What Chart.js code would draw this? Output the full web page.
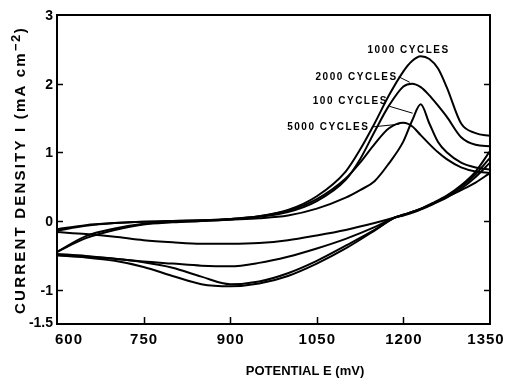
<!DOCTYPE html>
<html>
<head>
<meta charset="utf-8">
<script src="https://cdn.jsdelivr.net/npm/chart.js@4.4.1/dist/chart.umd.min.js"></script>
<style>
  html, body { margin: 0; padding: 0; background: #fff; }
  canvas { display: block; }
</style>
</head>
<body>
<canvas id="cv" width="507" height="380"></canvas>
<script>
// Forward (anodic) sweep potentials, mV
const anodicE = [600, 650, 700, 750, 800, 850, 900, 950, 1000, 1050, 1100, 1125, 1150, 1175, 1200, 1215, 1230, 1245, 1260, 1275, 1300, 1325, 1350];
// Anodic current density, mA cm^-2
const anodic100  = [-0.45, -0.25, -0.13, -0.05, -0.02, 0.00, 0.02, 0.04, 0.08, 0.18, 0.34, 0.45, 0.58, 0.84, 1.16, 1.46, 1.70, 1.42, 1.15, 1.00, 0.85, 0.78, 0.75];
const anodic1000 = [-0.12, -0.06, -0.03, -0.01, 0.00, 0.01, 0.03, 0.07, 0.16, 0.36, 0.72, 1.04, 1.42, 1.83, 2.18, 2.33, 2.40, 2.36, 2.22, 1.95, 1.42, 1.28, 1.24];
const anodic2000 = [-0.45, -0.22, -0.11, -0.04, -0.01, 0.00, 0.02, 0.06, 0.13, 0.29, 0.60, 0.90, 1.30, 1.68, 1.96, 2.00, 1.95, 1.83, 1.68, 1.52, 1.22, 1.11, 1.09];
const anodic5000 = [-0.14, -0.07, -0.03, -0.01, 0.00, 0.01, 0.03, 0.07, 0.15, 0.32, 0.62, 0.85, 1.12, 1.35, 1.43, 1.38, 1.25, 1.12, 1.00, 0.90, 0.78, 0.72, 0.70];

// Reverse (cathodic) sweep potentials, mV
const cathodicE = [1350, 1325, 1300, 1275, 1250, 1225, 1200, 1185, 1150, 1100, 1050, 1000, 950, 900, 850, 800, 750, 700, 650, 600];
// Cathodic current density, mA cm^-2
const cathodic100  = [0.85, 0.64, 0.47, 0.34, 0.24, 0.15, 0.08, 0.05, -0.09, -0.26, -0.40, -0.52, -0.61, -0.66, -0.65, -0.62, -0.59, -0.55, -0.51, -0.48];
const cathodic1000 = [1.02, 0.72, 0.52, 0.37, 0.26, 0.16, 0.09, 0.05, -0.14, -0.40, -0.62, -0.80, -0.91, -0.95, -0.92, -0.80, -0.67, -0.58, -0.53, -0.50];
const cathodic2000 = [0.92, 0.68, 0.50, 0.36, 0.25, 0.16, 0.09, 0.05, -0.13, -0.36, -0.58, -0.76, -0.88, -0.92, -0.81, -0.68, -0.60, -0.55, -0.52, -0.50];
const cathodic5000 = [0.70, 0.56, 0.45, 0.35, 0.25, 0.16, 0.09, 0.05, -0.03, -0.13, -0.21, -0.28, -0.32, -0.33, -0.33, -0.31, -0.28, -0.23, -0.19, -0.16];

// Axis ticks
const xTicks = [600, 750, 900, 1050, 1200, 1350];
const yTicks = [3, 2, 1, 0, -1, -1.5];
const yTickLabels = ['3', '2', '1', '0', '-1', '-1.5'];

// Curve captions, their anchor (E, I) and leader lines (E1, I1, E2, I2)
const cycleLabels = ['1000 CYCLES', '2000 CYCLES', '100 CYCLES', '5000 CYCLES'];
const labelAnchors = [[1209, 2.49], [1190, 2.10], [1173, 1.75], [1141, 1.37]];
const labelAlign = ['center', 'right', 'right', 'right'];
const leaders = [null, [1192, 2.10, 1211, 2.02], [1176, 1.67, 1216, 1.57], [1146, 1.37, 1193, 1.41]];

const xTitle = 'POTENTIAL E (mV)';
const yTitleMain = 'CURRENT DENSITY I (mA cm';
const yTitleSup = '\u22122';
const yTitleEnd = ')';

function branch(xs, ys) {
  return {
    data: xs.map((x, i) => ({ x: x, y: ys[i] })),
    showLine: true,
    borderColor: '#000',
    borderWidth: 2,
    pointRadius: 0,
    cubicInterpolationMode: 'monotone',
    fill: false
  };
}

const datasets = [
  branch(anodicE, anodic100), branch(cathodicE, cathodic100),
  branch(anodicE, anodic1000), branch(cathodicE, cathodic1000),
  branch(anodicE, anodic2000), branch(cathodicE, cathodic2000),
  branch(anodicE, anodic5000), branch(cathodicE, cathodic5000)
];

const FONT = '"Liberation Sans", Arial, Helvetica, sans-serif';

function setSpacing(ctx, px) {
  if ('letterSpacing' in ctx) ctx.letterSpacing = px + 'px';
}

const decorations = {
  id: 'decorations',
  afterDraw(chart) {
    const ctx = chart.ctx;
    const xs = chart.scales.x, ys = chart.scales.y;
    const a = chart.chartArea;
    ctx.save();
    ctx.strokeStyle = '#000';
    ctx.fillStyle = '#000';

    // frame
    ctx.lineWidth = 2;
    ctx.strokeRect(a.left, a.top, a.right - a.left, a.bottom - a.top);

    // inward ticks
    ctx.lineWidth = 1.5;
    ctx.beginPath();
    xTicks.slice(1, -1).forEach(v => {
      const px = Math.round(xs.getPixelForValue(v)) + 0.5;
      ctx.moveTo(px, a.bottom); ctx.lineTo(px, a.bottom - 7);
    });
    yTicks.forEach(v => {
      if (v === 3 || v === -1.5) return;
      const py = Math.round(ys.getPixelForValue(v)) + 0.5;
      ctx.moveTo(a.left, py); ctx.lineTo(a.left + 6, py);
      ctx.moveTo(a.right, py); ctx.lineTo(a.right - 6, py);
    });
    ctx.stroke();

    // x tick labels
    ctx.font = 'bold 15px ' + FONT;
    setSpacing(ctx, 1);
    ctx.textBaseline = 'middle';
    xTicks.forEach((v, i) => {
      const px = xs.getPixelForValue(v);
      if (i === 0) { ctx.textAlign = 'left'; ctx.fillText(String(v), px - 2, 340); }
      else if (i === xTicks.length - 1) { ctx.textAlign = 'center'; ctx.fillText(String(v), px - 4, 340); }
      else { ctx.textAlign = 'center'; ctx.fillText(String(v), px + 0.5, 340); }
    });

    // y tick labels
    ctx.font = 'bold 14px ' + FONT;
    setSpacing(ctx, 0);
    ctx.textAlign = 'right';
    yTicks.forEach((v, i) => {
      let py = ys.getPixelForValue(v);
      if (v === -1.5) py -= 2;
      ctx.fillText(yTickLabels[i], 53, py + 1);
    });

    // x title
    ctx.font = 'bold 13px ' + FONT;
    setSpacing(ctx, 0);
    ctx.textAlign = 'center';
    ctx.fillText(xTitle, 305, 371);

    // y title (rotated, with superscript)
    ctx.save();
    ctx.translate(21, 170);
    ctx.rotate(-Math.PI / 2);
    ctx.textAlign = 'left';
    ctx.textBaseline = 'middle';
    const mainFont = 'bold 15px ' + FONT, supFont = 'bold 13px ' + FONT;
    ctx.font = mainFont;
    setSpacing(ctx, 2.2);
    const wMain = ctx.measureText(yTitleMain).width;
    const wEnd = ctx.measureText(yTitleEnd).width;
    ctx.font = supFont;
    setSpacing(ctx, 1.5);
    const wSup = ctx.measureText(yTitleSup).width;
    const sx = -(wMain + wSup + wEnd) / 2;
    ctx.font = mainFont;
    setSpacing(ctx, 2.2);
    ctx.fillText(yTitleMain, sx, 0);
    ctx.font = supFont;
    setSpacing(ctx, 1.5);
    ctx.fillText(yTitleSup, sx + wMain, -5);
    ctx.font = mainFont;
    setSpacing(ctx, 2.2);
    ctx.fillText(yTitleEnd, sx + wMain + wSup, 0);
    ctx.restore();

    // curve captions
    ctx.font = 'bold 10px ' + FONT;
    setSpacing(ctx, 1.5);
    ctx.textBaseline = 'middle';
    cycleLabels.forEach((t, i) => {
      ctx.textAlign = labelAlign[i];
      ctx.fillText(t, xs.getPixelForValue(labelAnchors[i][0]), ys.getPixelForValue(labelAnchors[i][1]));
    });
    ctx.lineWidth = 1;
    ctx.beginPath();
    leaders.forEach(l => {
      if (!l) return;
      ctx.moveTo(xs.getPixelForValue(l[0]), ys.getPixelForValue(l[1]));
      ctx.lineTo(xs.getPixelForValue(l[2]), ys.getPixelForValue(l[3]));
    });
    ctx.stroke();
    ctx.restore();
  }
};

new Chart(document.getElementById('cv'), {
  type: 'scatter',
  data: { datasets: datasets },
  options: {
    responsive: false,
    devicePixelRatio: 1,
    animation: false,
    layout: { padding: { left: 57, right: 17, top: 15, bottom: 56 } },
    plugins: { legend: { display: false }, tooltip: { enabled: false } },
    scales: {
      x: { type: 'linear', min: 600, max: 1350, display: false },
      y: { type: 'linear', min: -1.5, max: 3, display: false }
    }
  },
  plugins: [decorations]
});
</script>
</body>
</html>
